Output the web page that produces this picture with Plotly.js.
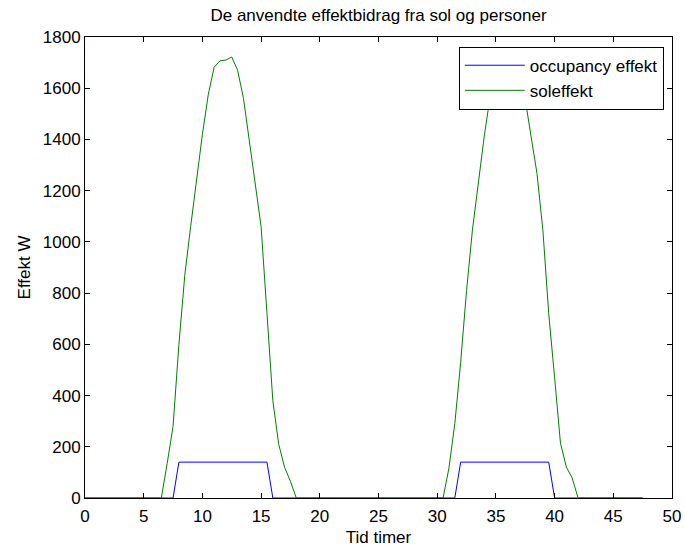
<!DOCTYPE html>
<html>
<head>
<meta charset="utf-8">
<script src="https://cdn.plot.ly/plotly-3.0.1.min.js"></script>
<style>html,body{margin:0;padding:0;background:#fff;}#chart{width:685px;height:551px;}</style>
</head>
<body>
<div id="chart"></div>
<script>
const hours = [0,0.5,1,1.5,2,2.5,3,3.5,4,4.5,5,5.5,6,6.5,7,7.5,8,8.5,9,9.5,10,10.5,11,11.5,12,12.5,13,13.5,14,14.5,15,15.5,16,16.5,17,17.5,18,18.5,19,19.5,20,20.5,21,21.5,22,22.5,23,23.5,24,24.5,25,25.5,26,26.5,27,27.5,28,28.5,29,29.5,30,30.5,31,31.5,32,32.5,33,33.5,34,34.5,35,35.5,36,36.5,37,37.5,38,38.5,39,39.5,40,40.5,41,41.5,42,42.5,43,43.5,44,44.5,45,45.5,46,46.5,47,47.5];

const occupancyEffekt = [0,0,0,0,0,0,0,0,0,0,0,0,0,0,0,0,
  140,140,140,140,140,140,140,140,140,140,140,140,140,140,140,140,
  0,0,0,0,0,0,0,0,0,0,0,0,0,0,0,0,0,0,0,0,0,0,0,0,0,0,0,0,0,0,0,0,
  140,140,140,140,140,140,140,140,140,140,140,140,140,140,140,140,
  0,0,0,0,0,0,0,0,0,0,0,0,0,0,0,0];

const solEffekt = [0,0,0,0,0,0,0,0,0,0,0,0,0,0,
  135,280,600,870,1060,1245,1420,1575,1682,1707,1710,1722,1670,1560,1395,1235,1060,720,380,210,120,65,0,
  0,0,0,0,0,0,0,0,0,0,0,0,0,0,0,0,0,0,0,0,0,0,0,0,0,
  117,290,530,810,1046,1230,1410,1565,1670,1700,1705,1715,1665,1555,1410,1267,1046,720,470,214,121,78,0,
  0,0,0,0,0,0,0,0,0,0,0];

const seriesNames = ['occupancy effekt', 'soleffekt'];
const xTicks = [0,5,10,15,20,25,30,35,40,45,50];
const yTicks = [0,200,400,600,800,1000,1200,1400,1600,1800];

const font = {family: 'Liberation Sans, Arial, sans-serif', size: 17, color: '#000'};

const traces = [
  {x: hours, y: occupancyEffekt, name: seriesNames[0], type: 'scatter', mode: 'lines',
   legendgroup: 'a', line: {color: '#0000ff', width: 1}},
  {x: hours, y: solEffekt, name: seriesNames[1], type: 'scatter', mode: 'lines',
   legendgroup: 'b', line: {color: '#008000', width: 1}}
];

const axisCommon = {
  showline: true, linecolor: '#000', linewidth: 1, mirror: 'ticks',
  ticks: 'inside', ticklen: 5, tickcolor: '#000', tickwidth: 1,
  showgrid: false, zeroline: false, tickfont: font
};

const layout = {
  width: 685, height: 551,
  paper_bgcolor: '#fff', plot_bgcolor: '#fff',
  margin: {l: 85, r: 13, t: 37, b: 53},
  font: font,
  title: {text: 'De anvendte effektbidrag fra sol og personer', font: font,
          xref: 'paper', x: 0.5, xanchor: 'center', y: 1, yref: 'container', yanchor: 'top', pad: {t: 9}},
  xaxis: Object.assign({}, axisCommon, {
    range: [0, 50], tickvals: xTicks, ticktext: xTicks.map(String), ticklabelstandoff: 3,
    title: {text: 'Tid timer', font: font, standoff: 5}
  }),
  yaxis: Object.assign({}, axisCommon, {
    range: [0, 1800], tickvals: yTicks, ticktext: yTicks.map(String),
    title: {text: 'Effekt W', font: font, standoff: 7}
  }),
  showlegend: true,
  legend: {x: 0.986, xanchor: 'right', y: 0.979, yanchor: 'top', itemwidth: 60,
           tracegroupgap: 2, traceorder: 'normal',
           bgcolor: '#fff', bordercolor: '#000', borderwidth: 1, font: font}
};

Plotly.newPlot('chart', traces, layout, {displayModeBar: false, staticPlot: true});
</script>
</body>
</html>
